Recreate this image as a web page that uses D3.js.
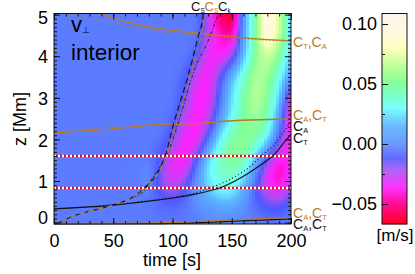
<!DOCTYPE html>
<html>
<head>
<meta charset="utf-8">
<script src="https://cdn.jsdelivr.net/npm/d3@7"></script>
<style>
  html, body { margin: 0; padding: 0; background: #fff; }
  svg { display: block; font-family: "Liberation Sans", Arial, sans-serif; }
  .axis text { font-size: 18px; fill: #000; }
  .axis path, .axis line { stroke: #111; stroke-width: 1; }
  .lab { font-size: 14px; }
  .lab tspan.sub { font-size: 7.5px; }
  .lab.topLab { font-size: 13px; }
  .lab.topLab tspan.sub { font-size: 6.5px; }
</style>
</head>
<body>
<svg class="chart" width="415" height="274"></svg>
<script>
// velocity grid, values in mm/s; rows are zRows, columns are tCols
var tCols = [0, 10, 20, 30, 40, 50, 60, 70, 80, 90, 100, 110, 120, 130, 140, 150, 160, 170, 180, 190, 200];
var zRows = [5, 4.5, 4, 3.5, 3, 2.5, 2, 1.5, 1, 0.75, 0.5, 0.25, 0];
var vGrid = [
  [-3, -3, -3, -3, -3, -3, -3, -3, -3, -3, -3, -3, -3, -22, -58, -72, 8, 45, 102, 72, 18],
  [-3, -3, -3, -3, -3, -3, -3, -3, -3, -3, -3, -3, -3, -24, -42, -48, 8, 50, 96, 72, 20],
  [-3, -3, -3, -3, -3, -3, -3, -3, -3, -3, -3, -3, -10, -34, -38, -24, 15, 52, 68, 52, 15],
  [-3, -3, -3, -3, -3, -3, -3, -3, -3, -3, -3, -8, -30, -37, -14, 18, 40, 62, 58, 32, 8],
  [-3, -3, -3, -3, -3, -3, -3, -3, -3, -3, -3, -14, -36, -36, -8, 24, 46, 68, 50, 22, -38],
  [-3, -3, -3, -3, -3, -3, -3, -3, -3, -3, -6, -26, -38, -30, 3, 30, 50, 55, 46, 5, -44],
  [-3, -3, -3, -3, -3, -3, -3, -3, -3, -4, -16, -36, -38, -8, 30, 50, 54, 50, 28, -12, -40],
  [-3, -3, -3, -3, -3, -3, -3, -3, -3, -14, -34, -40, -12, 26, 44, 52, 50, 14, -20, -42, -36],
  [-3, -3, -3, -3, -3, -3, -3, -2, 3, -18, -32, -20, 4, 26, 36, 38, 20, -8, -36, -48, -26],
  [-3, -3, -3, -3, -3, -3, -3, -3, -3, -14, -22, -12, 6, 20, 30, 30, 12, -10, -28, -34, -18],
  [-3, -3, -3, -3, -3, -3, -3, -3, -5, -8, -10, -6, 2, 8, 14, 14, 4, -10, -16, -18, -8],
  [-3, -3, -3, -3, -3, -3, -3, -3, -3, -5, -6, -4, -2, 2, 5, 5, 1, -4, -8, -9, -5],
  [-3, -3, -3, -3, -3, -3, -3, -3, -3, -3, -3, -3, -3, -2, -2, -2, -3, -3, -5, -5, -3]
];

// colour table of the bar
var cValues = [-0.066, -0.05, -0.036, -0.022, -0.012, -0.003, 0, 0.015, 0.03, 0.05, 0.065, 0.08, 0.09, 0.1087];
var cColors = ["#ff0028", "#ff0090", "#ff20ff", "#a850f0", "#4c58ff", "#5c7cff", "#5a8cff", "#5cb4ff", "#70ffff", "#80ff98", "#c0ff98", "#ffffc0", "#fffadc", "#fff4f0"];

// characteristic curves as [t, z]
var curveCt = [[0, 0.33], [50, 0.42], [81, 0.52], [100, 0.59], [120, 0.69], [143, 0.87], [163, 1.17], [177, 1.44], [185, 1.61], [196, 1.99], [200, 2.12]];
var curveCa = [[0, 0.33], [50, 0.43], [81, 0.53], [100, 0.6], [120, 0.72], [137, 0.89], [150, 1.06], [162, 1.27], [175, 1.6], [188, 1.95], [196, 2.27], [200, 2.43]];
var curveCsBlack = [[3, -0.03], [8, 0.05], [50, 0.43], [67, 0.62], [77, 0.85], [87, 1.18], [94, 1.62], [100.7, 2.35], [106, 2.85], [113, 3.51], [122, 4.51], [125.5, 4.91], [126, 5.02]];
var curveCsOrange = [[3, -0.03], [8, 0.05], [50, 0.43], [67, 0.62], [78, 0.85], [89.5, 1.27], [95, 1.61], [103, 2.35], [109, 2.9], [116, 3.65], [125, 4.6], [128, 5.02]];
var curveCk = [[67, 0.62], [72.6, 0.67], [84, 1.11], [96.5, 1.71], [106, 2.51], [117.5, 3.59], [131.6, 4.47], [138, 4.95], [139, 5.02]];
var curveTopSolid = [[39, 5.02], [72.6, 4.75], [98, 4.63], [123, 4.55], [165, 4.43], [200, 4.37]];
var curveTopDotted = [[12, 5.02], [39, 4.85], [72.6, 4.67], [98, 4.56], [123, 4.5], [165, 4.41], [200, 4.36]];
var curveMidSolid = [[0, 2.16], [39, 2.23], [98, 2.37], [123, 2.38], [140, 2.43], [200, 2.49]];
var curveMidDotted = [[0, 2.17], [39, 2.28], [98, 2.37], [123, 2.39], [140, 2.43], [200, 2.49]];
var curveLowOrange = [[0, -0.02], [39, -0.02], [82, -0.01], [123, 0.03], [157, 0.07], [200, 0.12]];
var curveLowBlack = [[0, -0.03], [82, -0.025], [123, 0], [157, 0.04], [200, 0.09]];

var cutHeights = [1.6, 0.83];
var xTicks = [0, 50, 100, 150, 200];
var xMinor = d3.range(0, 201, 10);
var zTicks = [0, 1, 2, 3, 4, 5];
var zMinor = d3.range(0, 5.01, 0.1);
var barTicks = [-0.05, 0, 0.05, 0.1];
var barMinor = [-0.025, 0.025, 0.075];

var orange = "#b97a28";

var svg = d3.select(".chart");

var left = 54, right = 291, top_ = 13.5, bottom = 224;
var xscale = d3.scaleLinear().domain([0, 200]).range([left, right]);
var yscale = d3.scaleLinear().domain([0, 5]).range([222.6, 14.6]);
var colour = d3.scaleLinear().domain(cValues).range(cColors).clamp(true);

// bilinear lookup in the grid
function lookup(t, z) {
  var tt = Math.max(0, Math.min(200, t));
  var i = Math.min(Math.max(d3.bisectRight(tCols, tt) - 1, 0), tCols.length - 2);
  var zz = Math.max(0, Math.min(5, z));
  var j = 0;
  while (j < zRows.length - 2 && zRows[j + 1] > zz) { j++; }
  var a = (tt - tCols[i]) / (tCols[i + 1] - tCols[i]);
  var b = (zz - zRows[j]) / (zRows[j + 1] - zRows[j]);
  var v0 = vGrid[j][i] * (1 - a) + vGrid[j][i + 1] * a;
  var v1 = vGrid[j + 1][i] * (1 - a) + vGrid[j + 1][i + 1] * a;
  return (v0 * (1 - b) + v1 * b) / 1000;
}

// the grid is coarse, so average around each block to take the steps out of the bands
var blurX = [-4, -2, 0, 2, 4];
var blurY = [-10, -5, 0, 5, 10];

function smoothed(px, py) {
  return d3.mean(blurX, function(dx) {
    return d3.mean(blurY, function(dy) {
      return lookup(xscale.invert(px + dx), yscale.invert(py + dy));
    });
  });
}

var cell = 3;
var cells = [];
d3.range(left, right, cell).forEach(function(px) {
  d3.range(top_, bottom, cell).forEach(function(py) {
    cells.push({px: px, py: py, v: smoothed(px + cell / 2, py + cell / 2)});
  });
});

svg.append("g").selectAll("rect")
  .data(cells)
  .enter().append("rect")
    .attr("x", function(d) { return d.px; })
    .attr("y", function(d) { return d.py; })
    .attr("width", function(d) { return Math.min(cell + 0.5, right - d.px); })
    .attr("height", function(d) { return Math.min(cell + 0.5, bottom - d.py); })
    .style("fill", function(d) { return colour(d.v); });

// the two heights picked out in the run
cutHeights.forEach(function(h) {
  svg.append("line").attr("x1", left).attr("x2", right).attr("y1", yscale(h)).attr("y2", yscale(h))
    .style("stroke", "#f00818").style("stroke-width", 2.4);
  svg.append("line").attr("x1", left).attr("x2", right).attr("y1", yscale(h)).attr("y2", yscale(h))
    .style("stroke", "#fff").style("stroke-width", 2.4).style("stroke-dasharray", "2,2");
});

var line = d3.line()
  .x(function(d) { return xscale(d[0]); })
  .y(function(d) { return yscale(d[1]); })
  .curve(d3.curveMonotoneX);

function drawCurve(points, stroke, dash, w, offset) {
  svg.append("path")
    .attr("d", line(points))
    .style("fill", "none")
    .style("stroke", stroke)
    .style("stroke-width", w)
    .style("stroke-dasharray", dash)
    .style("stroke-dashoffset", offset || 0);
}

drawCurve(curveLowBlack, "#111", null, 1.2);
drawCurve(curveLowOrange, orange, null, 1.2);
drawCurve(curveCa, "#111", "1,2.5", 1.1);
drawCurve(curveCt, "#111", null, 1.1);
drawCurve(curveMidDotted, orange, "1,2.5", 1.1);
drawCurve(curveMidSolid, orange, null, 1.3);
drawCurve(curveTopDotted, orange, "1,2.5", 1.1);
drawCurve(curveTopSolid, orange, null, 1.3);
drawCurve(curveCk, "#222", "3,2,1,2", 1);
drawCurve(curveCsBlack, "#111", "6,3.5", 1.1);
drawCurve(curveCsOrange, orange, "6,3.5", 1.1, 4.75);

// frame and ticks, major and minor on all four sides
svg.append("rect")
  .attr("x", left).attr("y", top_).attr("width", right - left).attr("height", bottom - top_)
  .style("fill", "none").style("stroke", "#111").style("stroke-width", 1);

function plainAxis(axis, vals, size, tx) {
  var g = svg.append("g").attr("class", "axis").attr("transform", tx)
    .call(axis.tickValues(vals).tickSizeInner(-size).tickSizeOuter(0));
  g.selectAll("text").remove();
}

plainAxis(d3.axisBottom(xscale), xMinor, 3, "translate(0," + bottom + ")");
plainAxis(d3.axisTop(xscale), xMinor, 3, "translate(0," + top_ + ")");
plainAxis(d3.axisLeft(yscale), zMinor, 3, "translate(" + left + ",0)");
plainAxis(d3.axisRight(yscale), zMinor, 3, "translate(" + right + ",0)");
plainAxis(d3.axisTop(xscale), xTicks, 6, "translate(0," + top_ + ")");
plainAxis(d3.axisRight(yscale), zTicks, 6, "translate(" + right + ",0)");

svg.append("g").attr("class", "axis").attr("transform", "translate(0," + bottom + ")")
  .call(d3.axisBottom(xscale).tickValues(xTicks).tickSizeInner(-6).tickSizeOuter(0).tickPadding(10.5).tickFormat(d3.format("d")));

var yAxisG = svg.append("g").attr("class", "axis").attr("transform", "translate(" + left + ",0)")
  .call(d3.axisLeft(yscale).tickValues(zTicks).tickSizeInner(-6).tickSizeOuter(0).tickPadding(6).tickFormat(d3.format("d")));
// end labels sit inside the frame height
yAxisG.selectAll("text").attr("y", function(d) { return d === 5 ? 3.5 : d === 0 ? -4.5 : 1; });

svg.selectAll(".axis .domain").remove();

svg.append("text").attr("x", 172).attr("y", 266).attr("text-anchor", "middle").style("font-size", "18px").text("time [s]");
svg.append("text").attr("transform", "translate(26,119) rotate(-90)").attr("text-anchor", "middle").style("font-size", "18px").text("z [Mm]");

var vLabel = svg.append("text").attr("x", 71).attr("y", 32).style("font-size", "22px");
vLabel.append("tspan").text("v");
vLabel.append("tspan").attr("dy", 1).style("font-size", "9px").text("⊥");
svg.append("text").attr("x", 71).attr("y", 60).style("font-size", "22.5px").text("interior");

// C labels, each given as colour, baseline and parts
var curveLabels = [
  {x: 191, y: 11, c: "#111", top: true, parts: [["C", "S"]]},
  {x: 204.5, y: 11, c: orange, top: true, parts: [["C", "S"]]},
  {x: 218, y: 11, c: "#111", top: true, parts: [["C", "k"]]},
  {x: 293, y: 47, c: orange, parts: [["C", "T"], ["C", "A"]]},
  {x: 293, y: 120, c: orange, parts: [["C", "A"], ["C", "T"]]},
  {x: 293, y: 130.5, c: "#111", parts: [["C", "A"]]},
  {x: 293, y: 143, c: "#111", parts: [["C", "T"]]},
  {x: 293, y: 217.5, c: orange, parts: [["C", "A"], ["C", "T"]]},
  {x: 293, y: 228.5, c: "#111", parts: [["C", "A"], ["C", "T"]]}
];

curveLabels.forEach(function(l) {
  var t = svg.append("text").attr("class", l.top ? "lab topLab" : "lab").attr("x", l.x).attr("y", l.y).style("fill", l.c);
  l.parts.forEach(function(p, i) {
    if (i > 0) { t.append("tspan").attr("dy", -2).text(","); }
    t.append("tspan").text(p[0]);
    t.append("tspan").attr("class", "sub").attr("dy", 2).text(p[1]);
  });
});

// colour bar
var barLeft = 382, barRight = 407;
var barY = d3.scaleLinear().domain([0, 0.1]).range([144, 24]);
var barVals = d3.range(barY.invert(bottom), barY.invert(top_), 1 / 1206);

svg.append("g").selectAll("rect")
  .data(barVals)
  .enter().append("rect")
    .attr("x", barLeft)
    .attr("y", function(d) { return barY(d) - 1; })
    .attr("width", barRight - barLeft)
    .attr("height", 1.3)
    .style("fill", function(d) { return colour(d); });

svg.append("rect")
  .attr("x", barLeft).attr("y", top_).attr("width", barRight - barLeft).attr("height", bottom - top_)
  .style("fill", "none").style("stroke", "#111").style("stroke-width", 1);

plainAxis(d3.axisLeft(barY), barMinor, 3, "translate(" + barLeft + ",0)");
svg.append("g").attr("class", "axis").attr("transform", "translate(" + barLeft + ",0)")
  .call(d3.axisLeft(barY).tickValues(barTicks).tickSizeInner(-6).tickSizeOuter(0).tickPadding(5).tickFormat(d3.format(".2f")));
svg.selectAll(".axis .domain").remove();

svg.append("text").attr("x", 395).attr("y", 241).attr("text-anchor", "middle").style("font-size", "17px").text("[m/s]");
</script>
</body>
</html>
